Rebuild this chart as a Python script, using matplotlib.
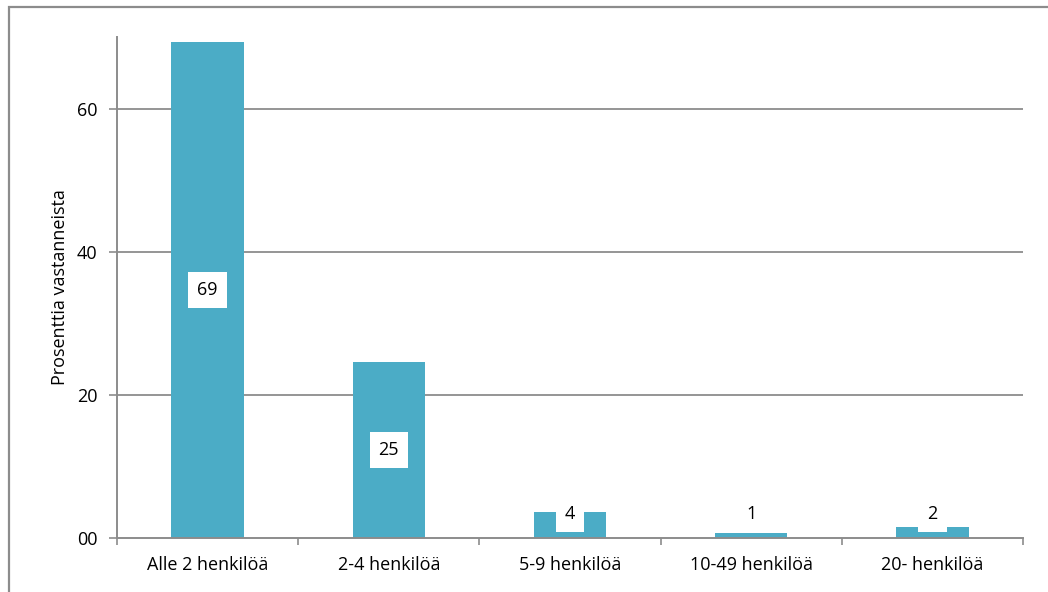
import matplotlib
matplotlib.use("Agg")
import matplotlib.pyplot as plt
from matplotlib.patches import Rectangle

plt.rcParams["font.family"] = ["Open Sans", "DejaVu Sans"]

categories = ["Alle 2 henkilöä", "2-4 henkilöä", "5-9 henkilöä", "10-49 henkilöä", "20- henkilöä"]
values = [69.3, 24.6, 3.7, 0.7, 1.5]
labels = ["69", "25", "4", "1", "2"]
yticks = [0, 20, 40, 60]
yticklabels = ["00", "20", "40", "60"]

BAR = "#4BACC6"
GRID = "#8C8C8C"
FS = 13

fig = plt.figure(figsize=(10.48, 5.92), dpi=100)
ax = fig.add_axes([117 / 1048, 1 - 538 / 592, 906 / 1048, 501 / 592])

x = list(range(len(categories)))
ax.bar(x, values, width=0.4, color=BAR, zorder=2)

for xi, v, lab in zip(x, values, labels):
    y = max(v / 2, 3.4)
    ax.text(xi, y, lab, ha="center", va="center", fontsize=FS, zorder=3,
            bbox=dict(boxstyle="square,pad=0.5", fc="white", ec="none"))

ax.set_xlim(-0.5, len(categories) - 0.5)
ax.set_ylim(0, 70)
ax.set_yticks(yticks)
ax.set_yticklabels(yticklabels, fontsize=FS)
ax.set_xticks(x)
ax.set_xticklabels(categories, fontsize=FS)
ax.set_xticks([i + 0.5 for i in range(-1, len(categories))], minor=True)
ax.tick_params(axis="x", which="major", length=0, pad=13)
ax.tick_params(axis="x", which="minor", length=5, color=GRID, width=1.2)
ax.tick_params(axis="y", length=6, color=GRID, width=1.2, pad=8)

ax.set_ylabel("Prosenttia vastanneista", fontsize=FS, labelpad=6)

for yt in yticks[1:]:
    ax.axhline(yt, color=GRID, lw=1.3, zorder=1)

for side in ["top", "right"]:
    ax.spines[side].set_visible(False)
for side in ["left", "bottom"]:
    ax.spines[side].set_color(GRID)
    ax.spines[side].set_linewidth(1.4)

frame = Rectangle((9 / 1048, -0.05), 1.1, 1 - 7 / 592 + 0.05, transform=fig.transFigure,
                  fill=False, ec="#8C8C8C", lw=1.6, zorder=0)
fig.patches.append(frame)

fig.savefig("out.png", dpi=100)
